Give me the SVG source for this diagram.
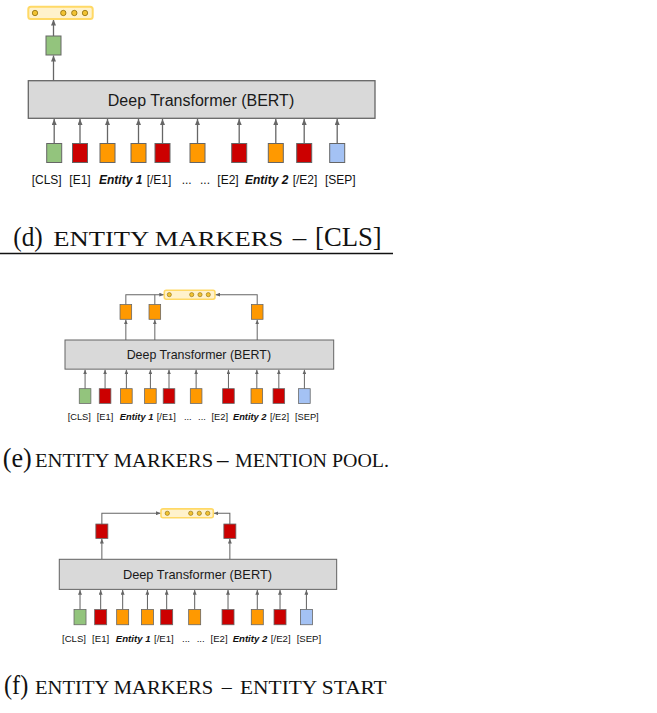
<svg xmlns="http://www.w3.org/2000/svg" width="657" height="713" viewBox="0 0 657 713">
<defs>
<style>
.tok{stroke:#666;stroke-width:1}
.g{fill:#93c47d}.r{fill:#cc0000}.o{fill:#ff9900}.b{fill:#a4c2f4}
.bert{fill:#d9d9d9;stroke:#666;stroke-width:1.3}
.conn{stroke:#666;stroke-width:1.3;fill:none}
.arr{marker-end:url(#ah)}
.vec{fill:#fff2cc;stroke:#ffd966;stroke-width:2}
.dot{fill:#f1c232;stroke:#7f6000;stroke-width:0.7}
.lbl{font-family:"Liberation Sans",Arial,sans-serif;font-size:12px;fill:#111}
.ent{font-weight:bold;font-style:italic}
.bt{font-family:"Liberation Sans",Arial,sans-serif;font-size:16px;fill:#1a1a1a;text-anchor:middle}
.cap{font-family:"Liberation Serif","Times New Roman",serif;fill:#111}
</style>
<marker id="ah" viewBox="0 0 6 5" refX="6" refY="2.5" markerWidth="6" markerHeight="5" markerUnits="userSpaceOnUse" orient="auto">
<path d="M0,0 L6,2.5 L0,5 z" fill="#666"/>
</marker>
</defs>

<!-- (d) ENTITY MARKERS - [CLS] -->
<g id="diagram-d">
  <g id="d-connectors">
    <line class="conn arr" x1="53.5" y1="36" x2="53.5" y2="19.5"/>
    <line class="conn arr" x1="53.5" y1="80.7" x2="53.5" y2="55.5"/>
    <line class="conn arr" x1="54.2" y1="143.5" x2="54.2" y2="119"/>
    <line class="conn arr" x1="80" y1="143.5" x2="80" y2="119"/>
    <line class="conn arr" x1="107.5" y1="143.5" x2="107.5" y2="119"/>
    <line class="conn arr" x1="138.5" y1="143.5" x2="138.5" y2="119"/>
    <line class="conn arr" x1="162.5" y1="143.5" x2="162.5" y2="119"/>
    <line class="conn arr" x1="197.5" y1="143.5" x2="197.5" y2="119"/>
    <line class="conn arr" x1="239.2" y1="143.5" x2="239.2" y2="119"/>
    <line class="conn arr" x1="275.8" y1="143.5" x2="275.8" y2="119"/>
    <line class="conn arr" x1="304.2" y1="143.5" x2="304.2" y2="119"/>
    <line class="conn arr" x1="337.2" y1="143.5" x2="337.2" y2="119"/>
  </g>
  <g id="d-vector">
    <rect class="vec" x="28.3" y="6.7" width="64.4" height="12.3" rx="2.5"/>
    <circle class="dot" cx="35" cy="13" r="2.7"/>
    <circle class="dot" cx="63.3" cy="13" r="2.7"/>
    <circle class="dot" cx="74.3" cy="13" r="2.7"/>
    <circle class="dot" cx="85" cy="13" r="2.7"/>
  </g>
  <g id="d-cls-out"><rect class="tok g" x="46" y="36" width="15" height="19"/></g>
  <g id="d-bert">
    <rect class="bert" x="28.3" y="80.7" width="346.7" height="37.6"/>
    <text class="bt" x="201" y="105.5">Deep Transformer (BERT)</text>
  </g>
  <g id="d-tokens">
    <g id="d-t-cls"><rect class="tok g" x="46.7" y="143.5" width="15" height="19"/></g>
    <g id="d-t-e1"><rect class="tok r" x="72.5" y="143.5" width="15" height="19"/></g>
    <g id="d-t-ent1a"><rect class="tok o" x="100" y="143.5" width="15" height="19"/></g>
    <g id="d-t-ent1b"><rect class="tok o" x="131" y="143.5" width="15" height="19"/></g>
    <g id="d-t-e1end"><rect class="tok r" x="155" y="143.5" width="15" height="19"/></g>
    <g id="d-t-mid"><rect class="tok o" x="190" y="143.5" width="15" height="19"/></g>
    <g id="d-t-e2"><rect class="tok r" x="231.7" y="143.5" width="15" height="19"/></g>
    <g id="d-t-ent2"><rect class="tok o" x="268.3" y="143.5" width="15" height="19"/></g>
    <g id="d-t-e2end"><rect class="tok r" x="296.7" y="143.5" width="15" height="19"/></g>
    <g id="d-t-sep"><rect class="tok b" x="329.7" y="143.5" width="15" height="19"/></g>
  </g>
  <g id="d-labels" class="lbl">
    <text x="31.7" y="183.5">[CLS]</text>
    <text x="69.3" y="183.5">[E1]</text>
    <text class="ent" x="99" y="183.5">Entity 1</text>
    <text x="146.7" y="183.5">[/E1]</text>
    <text x="181.7" y="183.5">...</text>
    <text x="200" y="183.5">...</text>
    <text x="217.3" y="183.5">[E2]</text>
    <text class="ent" x="245" y="183.5">Entity 2</text>
    <text x="292.7" y="183.5">[/E2]</text>
    <text x="325" y="183.5">[SEP]</text>
  </g>
</g>
<g id="caption-d" class="cap">
  <text x="13.3" y="246" font-size="27" textLength="29.5" lengthAdjust="spacingAndGlyphs">(d)</text>
  <text x="53.3" y="246" font-size="22" textLength="230" lengthAdjust="spacingAndGlyphs">ENTITY MARKERS</text>
  <text x="292.7" y="246" font-size="27">–</text>
  <text x="315" y="246" font-size="27" textLength="66.7" lengthAdjust="spacingAndGlyphs">[CLS]</text>
</g>
<line x1="0" y1="253.5" x2="393" y2="253.5" stroke="#111" stroke-width="1.3"/>

<!-- (e) ENTITY MARKERS - MENTION POOL -->
<g id="diagram-e" transform="matrix(0.775 0 0 0.775 43.07 277.46)">
  <g id="e-connectors">
    <polyline class="conn arr" points="106.8,35 106.8,22.2 156,22.2"/>
    <polyline class="conn" points="144.2,35 144.2,22.2"/>
    <polyline class="conn arr" points="276.3,35 276.3,22.2 222.3,22.2"/>
    <line class="conn arr" x1="106.8" y1="80.7" x2="106.8" y2="54.5"/>
    <line class="conn arr" x1="144.2" y1="80.7" x2="144.2" y2="54.5"/>
    <line class="conn arr" x1="276.3" y1="80.7" x2="276.3" y2="54.5"/>
    <line class="conn arr" x1="54.2" y1="143.5" x2="54.2" y2="119"/>
    <line class="conn arr" x1="80" y1="143.5" x2="80" y2="119"/>
    <line class="conn arr" x1="107.5" y1="143.5" x2="107.5" y2="119"/>
    <line class="conn arr" x1="138.5" y1="143.5" x2="138.5" y2="119"/>
    <line class="conn arr" x1="162.5" y1="143.5" x2="162.5" y2="119"/>
    <line class="conn arr" x1="197.5" y1="143.5" x2="197.5" y2="119"/>
    <line class="conn arr" x1="239.2" y1="143.5" x2="239.2" y2="119"/>
    <line class="conn arr" x1="275.8" y1="143.5" x2="275.8" y2="119"/>
    <line class="conn arr" x1="304.2" y1="143.5" x2="304.2" y2="119"/>
    <line class="conn arr" x1="337.2" y1="143.5" x2="337.2" y2="119"/>
  </g>
  <g id="e-vector">
    <rect class="vec" x="156.4" y="16.5" width="65.4" height="11.5" rx="2.5"/>
    <circle class="dot" cx="162.9" cy="22.2" r="2.7"/>
    <circle class="dot" cx="191.8" cy="22.2" r="2.7"/>
    <circle class="dot" cx="202.5" cy="22.2" r="2.7"/>
    <circle class="dot" cx="213.2" cy="22.2" r="2.7"/>
  </g>
  <g id="e-out1"><rect class="tok o" x="99.3" y="35" width="15" height="19"/></g>
  <g id="e-out2"><rect class="tok o" x="136.7" y="35" width="15" height="19"/></g>
  <g id="e-out3"><rect class="tok o" x="268.8" y="35" width="15" height="19"/></g>
  <g id="e-bert">
    <rect class="bert" x="28.3" y="80.7" width="346.7" height="37.6"/>
    <text class="bt" x="201" y="105.5">Deep Transformer (BERT)</text>
  </g>
  <g id="e-tokens">
    <g id="e-t-cls"><rect class="tok g" x="46.7" y="143.5" width="15" height="19"/></g>
    <g id="e-t-e1"><rect class="tok r" x="72.5" y="143.5" width="15" height="19"/></g>
    <g id="e-t-ent1a"><rect class="tok o" x="100" y="143.5" width="15" height="19"/></g>
    <g id="e-t-ent1b"><rect class="tok o" x="131" y="143.5" width="15" height="19"/></g>
    <g id="e-t-e1end"><rect class="tok r" x="155" y="143.5" width="15" height="19"/></g>
    <g id="e-t-mid"><rect class="tok o" x="190" y="143.5" width="15" height="19"/></g>
    <g id="e-t-e2"><rect class="tok r" x="231.7" y="143.5" width="15" height="19"/></g>
    <g id="e-t-ent2"><rect class="tok o" x="268.3" y="143.5" width="15" height="19"/></g>
    <g id="e-t-e2end"><rect class="tok r" x="296.7" y="143.5" width="15" height="19"/></g>
    <g id="e-t-sep"><rect class="tok b" x="329.7" y="143.5" width="15" height="19"/></g>
  </g>
  <g id="e-labels" class="lbl">
    <text x="31.7" y="183.5">[CLS]</text>
    <text x="69.3" y="183.5">[E1]</text>
    <text class="ent" x="99" y="183.5">Entity 1</text>
    <text x="146.7" y="183.5">[/E1]</text>
    <text x="181.7" y="183.5">...</text>
    <text x="200" y="183.5">...</text>
    <text x="217.3" y="183.5">[E2]</text>
    <text class="ent" x="245" y="183.5">Entity 2</text>
    <text x="292.7" y="183.5">[/E2]</text>
    <text x="325" y="183.5">[SEP]</text>
  </g>
</g>
<g id="caption-e" class="cap">
  <text x="2.7" y="466.5" font-size="27" textLength="29" lengthAdjust="spacingAndGlyphs">(e)</text>
  <text x="35" y="466.5" font-size="19" textLength="178.3" lengthAdjust="spacingAndGlyphs">ENTITY MARKERS</text>
  <text x="217" y="466.5" font-size="23">–</text>
  <text x="235" y="466.5" font-size="19" textLength="154" lengthAdjust="spacingAndGlyphs">MENTION POOL.</text>
</g>

<!-- (f) ENTITY MARKERS - ENTITY START -->
<g id="diagram-f" transform="matrix(0.8 0 0 0.8 36.66 494.74)">
  <g id="f-connectors">
    <polyline class="conn arr" points="81.5,36.6 81.5,23.2 155,23.2"/>
    <polyline class="conn arr" points="241.5,36.6 241.5,23.2 221.2,23.2"/>
    <line class="conn arr" x1="81.5" y1="80.7" x2="81.5" y2="55"/>
    <line class="conn arr" x1="241.5" y1="80.7" x2="241.5" y2="55"/>
    <line class="conn arr" x1="54.2" y1="143.5" x2="54.2" y2="119"/>
    <line class="conn arr" x1="80" y1="143.5" x2="80" y2="119"/>
    <line class="conn arr" x1="107.5" y1="143.5" x2="107.5" y2="119"/>
    <line class="conn arr" x1="138.5" y1="143.5" x2="138.5" y2="119"/>
    <line class="conn arr" x1="162.5" y1="143.5" x2="162.5" y2="119"/>
    <line class="conn arr" x1="197.5" y1="143.5" x2="197.5" y2="119"/>
    <line class="conn arr" x1="239.2" y1="143.5" x2="239.2" y2="119"/>
    <line class="conn arr" x1="275.8" y1="143.5" x2="275.8" y2="119"/>
    <line class="conn arr" x1="304.2" y1="143.5" x2="304.2" y2="119"/>
    <line class="conn arr" x1="337.2" y1="143.5" x2="337.2" y2="119"/>
  </g>
  <g id="f-vector">
    <rect class="vec" x="155.4" y="17.7" width="65.4" height="11" rx="2.5"/>
    <circle class="dot" cx="163.3" cy="23.2" r="2.7"/>
    <circle class="dot" cx="192.6" cy="23.2" r="2.7"/>
    <circle class="dot" cx="203.3" cy="23.2" r="2.7"/>
    <circle class="dot" cx="213.8" cy="23.2" r="2.7"/>
  </g>
  <g id="f-out1"><rect class="tok r" x="74" y="36.6" width="15" height="18"/></g>
  <g id="f-out2"><rect class="tok r" x="234" y="36.6" width="15" height="18"/></g>
  <g id="f-bert">
    <rect class="bert" x="28.3" y="80.7" width="346.7" height="37.6"/>
    <text class="bt" x="201" y="105.5">Deep Transformer (BERT)</text>
  </g>
  <g id="f-tokens">
    <g id="f-t-cls"><rect class="tok g" x="46.7" y="143.5" width="15" height="19"/></g>
    <g id="f-t-e1"><rect class="tok r" x="72.5" y="143.5" width="15" height="19"/></g>
    <g id="f-t-ent1a"><rect class="tok o" x="100" y="143.5" width="15" height="19"/></g>
    <g id="f-t-ent1b"><rect class="tok o" x="131" y="143.5" width="15" height="19"/></g>
    <g id="f-t-e1end"><rect class="tok r" x="155" y="143.5" width="15" height="19"/></g>
    <g id="f-t-mid"><rect class="tok o" x="190" y="143.5" width="15" height="19"/></g>
    <g id="f-t-e2"><rect class="tok r" x="231.7" y="143.5" width="15" height="19"/></g>
    <g id="f-t-ent2"><rect class="tok o" x="268.3" y="143.5" width="15" height="19"/></g>
    <g id="f-t-e2end"><rect class="tok r" x="296.7" y="143.5" width="15" height="19"/></g>
    <g id="f-t-sep"><rect class="tok b" x="329.7" y="143.5" width="15" height="19"/></g>
  </g>
  <g id="f-labels" class="lbl">
    <text x="31.7" y="183.5">[CLS]</text>
    <text x="69.3" y="183.5">[E1]</text>
    <text class="ent" x="99" y="183.5">Entity 1</text>
    <text x="146.7" y="183.5">[/E1]</text>
    <text x="181.7" y="183.5">...</text>
    <text x="200" y="183.5">...</text>
    <text x="217.3" y="183.5">[E2]</text>
    <text class="ent" x="245" y="183.5">Entity 2</text>
    <text x="292.7" y="183.5">[/E2]</text>
    <text x="325" y="183.5">[SEP]</text>
  </g>
</g>
<g id="caption-f" class="cap">
  <text x="4" y="694" font-size="27" textLength="24.3" lengthAdjust="spacingAndGlyphs">(f)</text>
  <text x="35" y="694" font-size="19" textLength="178.3" lengthAdjust="spacingAndGlyphs">ENTITY MARKERS</text>
  <text x="221.7" y="694" font-size="20">–</text>
  <text x="240" y="694" font-size="19" textLength="146.7" lengthAdjust="spacingAndGlyphs">ENTITY START</text>
</g>
</svg>
